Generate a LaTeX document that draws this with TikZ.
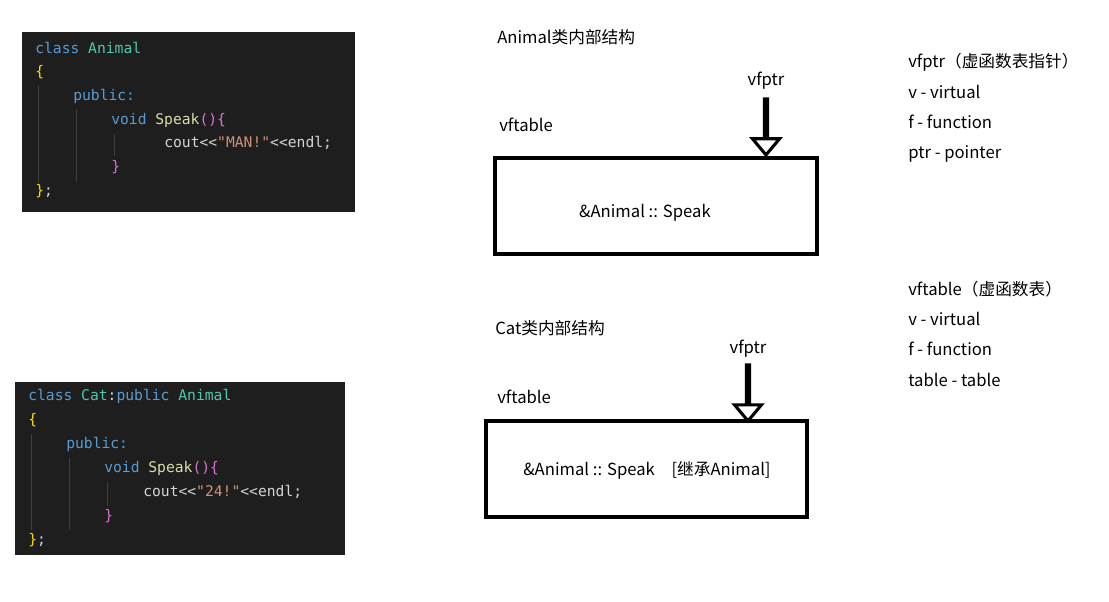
\documentclass[tikz,border=0pt]{standalone}
\usepackage{fontspec}
\setmainfont{Noto Sans CJK SC}
\setmonofont{DejaVu Sans Mono}
\usetikzlibrary{shapes.arrows}
\definecolor{bg}{HTML}{1E1E1E}
\definecolor{kw}{HTML}{569CD6}
\definecolor{cls}{HTML}{4EC9B0}
\definecolor{brc}{HTML}{FFD700}
\definecolor{fn}{HTML}{DCDCAA}
\definecolor{str}{HTML}{CE9178}
\definecolor{txt}{HTML}{D4D4D4}
\definecolor{par}{HTML}{DA70D6}
\definecolor{guide}{HTML}{404040}
\tikzset{
 code/.style={anchor=west,inner sep=0pt,font=\ttfamily\fontsize{11}{13}\selectfont,text=txt},
 lbl/.style={anchor=west,inner sep=0pt,font=\fontsize{12.5}{15}\selectfont},
 tbox/.style={draw,line width=2.3pt,inner sep=0pt},
 barrow/.style={draw,line width=2.3pt,fill=white,single arrow,shape border rotate=270,single arrow head extend=9pt,single arrow tip angle=80,minimum height=42pt,minimum width=14pt,inner sep=0pt}
}
\begin{document}
\begin{tikzpicture}[x=0.75pt,y=-0.75pt]
\useasboundingbox (0,0) rectangle (1109,602);
% code 1
\fill[bg] (22,32) rectangle (355,212);
\draw[guide] (38,86)--(38,182) (76,110)--(76,182) (114,134)--(114,156);
\node[code] (c1) at (35,48) {\color{kw}class \color{cls}Animal};
\node[code] (c2) at (35,72) {\color{brc}\{};
\node[code] (c3) at (73,96) {\color{kw}public:};
\node[code] (c4) at (111,120) {\color{kw}void \color{fn}Speak\color{par}()\{};
\node[code] (c5) at (164,143) {cout<{}<\color{str}"MAN!"\color{txt}<{}<endl;};
\node[code] (c6) at (111,167) {\color{par}\}};
\node[code] (c7) at (35,191) {\color{brc}\}\color{txt};};
% code 2
\fill[bg] (15,382) rectangle (345,555);
\draw[guide] (31,434)--(31,530) (69,458)--(69,530) (107,482)--(107,506);
\node[code] (d1) at (28,396) {\color{kw}class \color{cls}Cat\color{txt}:\color{kw}public \color{cls}Animal};
\node[code] (d2) at (28,420) {\color{brc}\{};
\node[code] (d3) at (66,444) {\color{kw}public:};
\node[code] (d4) at (104,468) {\color{kw}void \color{fn}Speak\color{par}()\{};
\node[code] (d5) at (143,492) {cout<{}<\color{str}"24!"\color{txt}<{}<endl;};
\node[code] (d6) at (104,516) {\color{par}\}};
\node[code] (d7) at (28,540) {\color{brc}\}\color{txt};};
% Animal structure
\node[lbl] (t1) at (497,37) {Animal类内部结构};
\node[lbl,anchor=center] (p1) at (766,81) {vfptr};
\node[lbl] (v1) at (499,125) {vftable};
\node[tbox,minimum width=241.5pt,minimum height=72pt] (b1) at (656,206) {};
\node[lbl,anchor=center] (s1) at (645,213) {\&Animal :: Speak};
\node[barrow] (a1) at (766,126) {};
% Cat structure
\node[lbl] (t2) at (495,328) {Cat类内部结构};
\node[lbl,anchor=center] (p2) at (748,349) {vfptr};
\node[lbl] (v2) at (497,397) {vftable};
\node[tbox,minimum width=240.75pt,minimum height=72pt] (b2) at (646.5,469) {};
\node[lbl,anchor=center] (s2) at (647,470) {\&Animal :: Speak\quad [继承Animal]};
\node[barrow] (a2) at (748,392) {};
% notes
\node[lbl] (n1) at (908,62) {vfptr（虚函数表指针）};
\node[lbl] (n2) at (908,92) {v - virtual};
\node[lbl] (n3) at (908,122) {f - function};
\node[lbl] (n4) at (908,154) {ptr - pointer};
\node[lbl] (m1) at (908,289) {vftable（虚函数表）};
\node[lbl] (m2) at (908,319) {v - virtual};
\node[lbl] (m3) at (908,349) {f - function};
\node[lbl] (m4) at (908,380) {table - table};
\end{tikzpicture}
\end{document}
